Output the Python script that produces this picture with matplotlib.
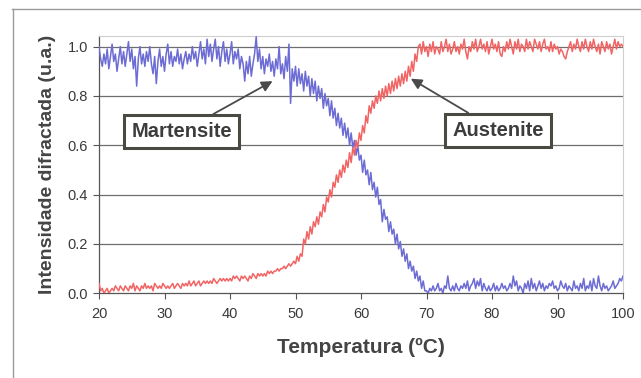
import numpy as np
import matplotlib
matplotlib.use("Agg")
import matplotlib.pyplot as plt
from matplotlib.lines import Line2D

plt.rcParams['font.family'] = ['Liberation Sans', 'DejaVu Sans']

# temperatura (ºC), passo de 0.25
temperatura = np.arange(20, 100.01, 0.25)

# martensite (azul), 4 leituras por grau
martensite = [
    1.00, 0.95, 0.92, 0.97,  0.93, 0.99, 0.91, 0.96,  1.01, 0.94, 0.97, 0.90,  0.95, 1.00, 0.93, 0.98,
    0.92, 0.97, 1.02, 0.94,  0.99, 0.91, 0.96, 0.84,  0.95, 1.00, 0.93, 0.97,  0.92, 0.98, 0.94, 1.00,
    0.93, 0.89, 0.96, 0.85,  0.94, 0.99, 0.92, 0.96,  0.90, 0.97, 1.01, 0.93,  0.98, 0.92, 0.96, 0.94,
    0.99, 0.93, 0.97, 0.91,  0.95, 0.98, 0.93, 0.97,  0.94, 1.00, 0.95, 0.98,  0.92, 0.97, 1.02, 0.95,
    0.99, 0.93, 1.03, 0.96,  1.01, 0.94, 0.99, 1.03,  0.95, 1.00, 0.92, 0.98,  1.02, 0.94, 0.99, 0.93,
    0.97, 1.02, 0.93, 0.98,  0.95, 0.99, 0.91, 0.96,  0.93, 0.86, 0.94, 0.89,  0.96, 0.88, 0.93, 0.97,
    1.04, 0.94, 0.99, 0.91,  0.96, 0.89, 0.95, 0.92,  0.97, 0.90, 0.94, 0.88,  0.95, 0.91, 1.00, 0.89,
    0.93, 0.87, 0.96, 0.90,  1.01, 0.77, 0.91, 0.86,  0.92, 0.84, 0.91, 0.85,  0.89, 0.82, 0.90, 0.84,
    0.88, 0.80, 0.87, 0.81,  0.86, 0.78, 0.84, 0.79,  0.83, 0.75, 0.81, 0.76,  0.79, 0.72, 0.78, 0.71,
    0.75, 0.68, 0.73, 0.67,  0.71, 0.64, 0.69, 0.63,  0.67, 0.60, 0.65, 0.59,  0.62, 0.56, 0.60, 0.54,
    0.56, 0.49, 0.54, 0.48,  0.50, 0.44, 0.49, 0.42,  0.45, 0.39, 0.43, 0.36,  0.38, 0.29, 0.34, 0.30,
    0.31, 0.25, 0.29, 0.24,  0.26, 0.20, 0.24, 0.18,  0.21, 0.15, 0.18, 0.13,  0.16, 0.10, 0.13, 0.09,
    0.11, 0.06, 0.09, 0.05,  0.07, 0.02, 0.05, 0.01,  0.01, 0.00, 0.02, 0.01,  0.03, 0.01, 0.02, 0.04,
    0.01, 0.02, 0.00, 0.03,  0.02, 0.07, 0.02, 0.01,  0.03, 0.01, 0.04, 0.02,  0.01, 0.03, 0.02, 0.04,
    0.02, 0.05, 0.01, 0.03,  0.04, 0.06, 0.02, 0.05,  0.03, 0.06, 0.01, 0.04,  0.02, 0.01, 0.03, 0.01,
    0.02, 0.04, 0.01, 0.03,  0.01, 0.02, 0.04, 0.02,  0.03, 0.01, 0.02, 0.04,  0.02, 0.07, 0.03, 0.05,
    0.01, 0.03, 0.02, 0.00,  0.04, 0.02, 0.05, 0.01,  0.06, 0.02, 0.04, 0.01,  0.03, 0.05, 0.02, 0.04,
    0.01, 0.03, 0.02, 0.04,  0.03, 0.05, 0.02, 0.03,  0.01, 0.02, 0.05, 0.03,  0.02, 0.04, 0.01, 0.03,
    0.02, 0.01, 0.05, 0.02,  0.03, 0.01, 0.04, 0.02,  0.06, 0.01, 0.03, 0.02,  0.05, 0.01, 0.06, 0.03,
    0.02, 0.07, 0.03, 0.01,  0.04, 0.02, 0.03, 0.01,  0.02, 0.03, 0.05, 0.02,  0.03, 0.04, 0.06, 0.05,
    0.07,
]

# austenite (vermelho)
austenite = [
    0.04, 0.01, 0.02, 0.00,  0.01, 0.02, 0.00, 0.01,  0.02, 0.01, 0.03, 0.02,  0.01, 0.03, 0.02, 0.01,
    0.03, 0.02, 0.01, 0.03,  0.02, 0.04, 0.01, 0.03,  0.02, 0.01, 0.03, 0.02,  0.04, 0.02, 0.03, 0.02,
    0.03, 0.01, 0.04, 0.03,  0.02, 0.03, 0.02, 0.04,  0.03, 0.02, 0.03, 0.02,  0.03, 0.04, 0.02, 0.03,
    0.04, 0.03, 0.02, 0.04,  0.03, 0.04, 0.03, 0.05,  0.03, 0.04, 0.05, 0.03,  0.04, 0.05, 0.03, 0.04,
    0.05, 0.04, 0.05, 0.04,  0.05, 0.04, 0.06, 0.05,  0.04, 0.05, 0.06, 0.05,  0.06, 0.05, 0.06, 0.05,
    0.06, 0.05, 0.07, 0.06,  0.07, 0.06, 0.05, 0.07,  0.06, 0.07, 0.06, 0.05,  0.07, 0.06, 0.08, 0.07,
    0.06, 0.08, 0.07, 0.08,  0.07, 0.08, 0.07, 0.09,  0.08, 0.09, 0.08, 0.09,  0.09, 0.10, 0.09, 0.10,
    0.10, 0.11, 0.10, 0.11,  0.12, 0.11, 0.12, 0.13,  0.12, 0.15, 0.13, 0.16,  0.15, 0.22, 0.20, 0.25,
    0.22, 0.27, 0.24, 0.29,  0.27, 0.31, 0.28, 0.33,  0.31, 0.36, 0.33, 0.39,  0.37, 0.42, 0.39, 0.45,
    0.43, 0.48, 0.45, 0.50,  0.47, 0.52, 0.49, 0.54,  0.51, 0.57, 0.53, 0.59,  0.56, 0.62, 0.59, 0.65,
    0.62, 0.68, 0.65, 0.72,  0.69, 0.76, 0.73, 0.78,  0.75, 0.80, 0.77, 0.82,  0.78, 0.83, 0.79, 0.84,
    0.80, 0.85, 0.81, 0.86,  0.82, 0.87, 0.83, 0.88,  0.84, 0.89, 0.85, 0.90,  0.86, 0.92, 0.88, 0.94,
    0.90, 0.97, 0.94, 1.00,  1.01, 0.97, 1.02, 0.98,  1.00, 0.96, 1.01, 0.98,  1.02, 0.97, 1.00, 0.99,
    0.97, 1.02, 0.98, 1.00,  1.03, 0.98, 1.01, 0.97,  0.99, 1.02, 0.98, 1.00,  0.97, 1.01, 0.99, 1.03,
    0.98, 0.95, 1.00, 0.98,  1.02, 0.99, 1.03, 0.98,  1.00, 1.03, 0.99, 1.01,  0.98, 1.02, 0.97, 1.00,
    1.03, 0.99, 1.01, 0.98,  1.02, 0.97, 0.96, 1.00,  0.98, 1.02, 0.99, 1.03,  1.00, 0.97, 1.02, 0.99,
    1.03, 0.98, 1.01, 1.00,  0.98, 1.03, 0.99, 1.02,  1.00, 0.98, 1.03, 1.01,  0.99, 1.02, 0.98, 1.01,
    1.03, 0.99, 1.00, 0.98,  1.02, 0.98, 1.01, 0.99,  1.00, 0.97, 0.99, 0.98,  0.96, 0.95, 0.98, 1.00,
    1.02, 0.98, 1.01, 0.99,  1.03, 1.00, 0.98, 1.02,  0.99, 1.03, 1.00, 0.98,  1.02, 0.99, 1.03, 1.00,
    0.98, 1.01, 0.97, 1.02,  1.00, 0.98, 1.02, 0.99,  1.01, 0.97, 1.00, 1.03,  0.99, 1.02, 1.00, 1.01,
    1.00,
]

x_ticks = [20, 30, 40, 50, 60, 70, 80, 90, 100]
y_ticks = [0.0, 0.2, 0.4, 0.6, 0.8, 1.0]

fig = plt.figure(figsize=(6.41, 3.78), dpi=100)
ax = fig.add_axes([99/641, 1-293.3/378, 524/641, (293.3-36)/378])

for yv in y_ticks[1:]:
    ax.axhline(yv, color='#6e6e6e', lw=0.9, zorder=1)

ax.plot(temperatura, martensite, color='#6c6cd4', lw=1.1, zorder=3)
ax.plot(temperatura, austenite, color='#f26464', lw=1.1, zorder=3)

ax.set_xlim(20, 100)
ax.set_ylim(0, 1.043)
ax.set_xticks(x_ticks)
ax.set_yticks(y_ticks)
ax.set_yticklabels(['%.1f' % v for v in y_ticks])
ax.tick_params(direction='out', length=4, width=0.8, color='#555555',
               labelsize=10.5, labelcolor='#3a3a3a', pad=4)
ax.tick_params(axis='x', pad=6)

for s in ['left', 'bottom']:
    ax.spines[s].set_color('#555555')
    ax.spines[s].set_linewidth(0.9)
for s in ['top', 'right']:
    ax.spines[s].set_color('#cfcfcf')
    ax.spines[s].set_linewidth(0.8)

ax.set_xlabel('Temperatura (ºC)', fontsize=15, fontweight='bold', color='#444444', labelpad=12)
ax.set_ylabel('Intensidade difractada (u.a.)', fontsize=14, fontweight='bold', color='#444444', labelpad=8)

box = dict(boxstyle='square,pad=0.35', fc='white', ec='#4a4a42', lw=2.2)
arrow = dict(arrowstyle='-|>', color='#4a4a4a', lw=1.3, mutation_scale=16, shrinkA=0, shrinkB=0)
ax.annotate('Martensite', xy=(46.5, 0.86), xytext=(32.6, 0.655), fontsize=14.5, fontweight='bold',
            color='#3c3c3c', ha='center', va='center', bbox=box, arrowprops=arrow, zorder=5)
ax.annotate('Austenite', xy=(67.6, 0.87), xytext=(80.9, 0.66), fontsize=14.5, fontweight='bold',
            color='#3c3c3c', ha='center', va='center', bbox=box, arrowprops=arrow, zorder=5)

# moldura exterior
fig.add_artist(Line2D([12/641, 1], [1-9/378, 1-9/378], color='#9a9a9a', lw=1.0))
fig.add_artist(Line2D([13/641, 13/641], [0, 1-9/378], color='#9a9a9a', lw=1.0))

fig.savefig('out.png', dpi=100)
